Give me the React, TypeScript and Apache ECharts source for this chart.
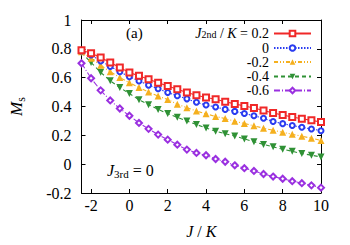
import React, { useEffect, useRef } from "react";
import * as echarts from "echarts";

const J = [-2.5, -2, -1.5, -1, -0.5, 0, 0.5, 1, 1.5, 2, 2.5, 3, 3.5, 4, 4.5, 5, 5.5, 6, 6.5, 7, 7.5, 8, 8.5, 9, 9.5, 10];
const seriesNames = ["0.2", "0", "-0.2", "-0.4", "-0.6"];
const ms02 = [0.79, 0.77, 0.74, 0.705, 0.67, 0.635, 0.613, 0.589, 0.565, 0.542, 0.519, 0.497, 0.478, 0.463, 0.45, 0.433, 0.418, 0.403, 0.389, 0.372, 0.355, 0.341, 0.327, 0.315, 0.304, 0.292];
const ms00 = [0.785, 0.758, 0.716, 0.677, 0.641, 0.607, 0.577, 0.548, 0.523, 0.497, 0.474, 0.453, 0.429, 0.41, 0.397, 0.38, 0.366, 0.351, 0.336, 0.318, 0.296, 0.281, 0.268, 0.256, 0.244, 0.232];
const msm02 = [0.78, 0.735, 0.686, 0.641, 0.601, 0.565, 0.531, 0.5, 0.472, 0.448, 0.416, 0.392, 0.368, 0.349, 0.331, 0.316, 0.298, 0.282, 0.266, 0.25, 0.235, 0.221, 0.207, 0.194, 0.18, 0.165];
const msm04 = [0.775, 0.705, 0.637, 0.578, 0.531, 0.49, 0.446, 0.413, 0.38, 0.351, 0.325, 0.3, 0.275, 0.251, 0.228, 0.211, 0.195, 0.175, 0.156, 0.137, 0.12, 0.104, 0.089, 0.074, 0.062, 0.05];
const msm06 = [0.7, 0.596, 0.512, 0.442, 0.386, 0.336, 0.286, 0.245, 0.205, 0.17, 0.135, 0.101, 0.078, 0.062, 0.036, 0.017, -0.008, -0.028, -0.047, -0.068, -0.086, -0.101, -0.118, -0.132, -0.147, -0.163];
const xTicks = [-2, 0, 2, 4, 6, 8, 10];

const SERIF = "'Liberation Serif', 'Times New Roman', serif";

export default function App() {
  const ref = useRef<HTMLDivElement>(null);
  useEffect(() => {
    if (!ref.current) return;
    const chart = echarts.init(ref.current, null, { renderer: "svg" });
    const values = [ms02, ms00, msm02, msm04, msm06];
    const styles = [
      { color: "#f02828", symbol: "emptyRect", size: 6, type: "solid" as any, rotate: 0 },
      { color: "#2a3cf0", symbol: "emptyCircle", size: 5, type: [1.5, 1.5], rotate: 0 },
      { color: "#f5b01e", symbol: "triangle", size: 7, type: [4, 2, 1, 2, 1, 2], rotate: 0 },
      { color: "#2f9135", symbol: "triangle", size: 7, type: [4, 3], rotate: 180 },
      { color: "#9a30e0", symbol: "emptyDiamond", size: 6, type: [6, 2, 1, 2], rotate: 0 },
    ];
    const series = seriesNames.map((name, i) => ({
      name,
      type: "line",
      xAxisIndex: 0,
      yAxisIndex: 0,
      data: J.map((x, k) => [x, values[i][k]]),
      symbol: styles[i].symbol,
      symbolSize: styles[i].size,
      symbolRotate: styles[i].rotate,
      showAllSymbol: true,
      lineStyle: { color: styles[i].color, width: 1.1, type: styles[i].type },
      itemStyle: { color: styles[i].color, borderWidth: 1.2 },
      z: 10 - i,
    }));
    const legendCenters = [31.5, 47, 61, 75.5, 89.5];
    const richLegend = {
      i: { fontFamily: SERIF, fontStyle: "italic", fontSize: 14, color: "#000", lineHeight: 12 },
      sub: { fontFamily: SERIF, fontSize: 10, color: "#000", verticalAlign: "bottom", lineHeight: 10, padding: [4, 0, 0, 0] },
      n: { fontFamily: SERIF, fontSize: 14, color: "#000", lineHeight: 12 },
    };
    const legends = seriesNames.map((name, i) => ({
      data: [name],
      right: 38,
      top: legendCenters[i] - 6,
      padding: 0,
      orient: "horizontal",
      align: "right",
      itemWidth: 37,
      itemHeight: 7,
      selectedMode: false,
      textStyle: { fontFamily: SERIF, fontSize: 14, color: "#000", lineHeight: 12, rich: richLegend },
      formatter: (n: string) => (i === 0 ? "{i|J}{sub|2nd}{n| / }{i|K}{n| = " + n + "}" : "{n|" + n + "}"),
    }));
    const axisLineStyle = { color: "#000", width: 1 };
    chart.setOption({
      animation: false,
      backgroundColor: "#fff",
      grid: { left: 78, right: 29, top: 20, bottom: 52 },
      legend: legends,
      xAxis: [
        {
          type: "value",
          min: -2.5,
          max: 10,
          position: "bottom",
          axisLine: { show: true, onZero: false, lineStyle: axisLineStyle },
          axisTick: { show: true, inside: true, length: 4, customValues: xTicks, lineStyle: axisLineStyle },
          axisLabel: { customValues: xTicks, fontFamily: SERIF, fontSize: 16, color: "#000", margin: 4 },
          splitLine: { show: false },
          name: "{i|J} / {i|K}",
          nameLocation: "middle",
          nameGap: 30,
          nameTextStyle: {
            fontFamily: SERIF,
            fontSize: 16,
            color: "#000",
            rich: { i: { fontFamily: SERIF, fontStyle: "italic", fontSize: 16, color: "#000" } },
          },
        },
        {
          type: "value",
          min: -2.5,
          max: 10,
          position: "top",
          axisLine: { show: true, onZero: false, lineStyle: axisLineStyle },
          axisTick: { show: true, inside: true, length: 4, customValues: xTicks, lineStyle: axisLineStyle },
          axisLabel: { show: false },
          splitLine: { show: false },
        },
      ],
      yAxis: [
        {
          type: "value",
          min: -0.2,
          max: 1,
          interval: 0.2,
          position: "left",
          axisLine: { show: true, onZero: false, lineStyle: axisLineStyle },
          axisTick: { show: true, inside: true, length: 4, lineStyle: axisLineStyle },
          axisLabel: {
            fontFamily: SERIF,
            fontSize: 16,
            color: "#000",
            margin: 10,
            formatter: (v: number) => String(Number(v.toFixed(1))),
          },
          splitLine: { show: false },
          name: "{i|M}{s|s}",
          nameLocation: "middle",
          nameRotate: 90,
          nameGap: 55,
          nameTextStyle: {
            rich: {
              i: { fontFamily: SERIF, fontStyle: "italic", fontSize: 17, color: "#000" },
              s: { fontFamily: SERIF, fontSize: 12, color: "#000", verticalAlign: "bottom", padding: [8, 0, 0, 0] },
            },
          },
        },
        {
          type: "value",
          min: -0.2,
          max: 1,
          interval: 0.2,
          position: "right",
          axisLine: { show: true, onZero: false, lineStyle: axisLineStyle },
          axisTick: { show: true, inside: true, length: 4, lineStyle: axisLineStyle },
          axisLabel: { show: false },
          splitLine: { show: false },
        },
      ],
      series,
      graphic: [
        {
          type: "text",
          left: 126,
          top: 25,
          style: { text: "(a)", font: `15px ${SERIF}`, fill: "#000" },
        },
        {
          type: "text",
          left: 107,
          top: 162,
          style: {
            text: "{i|J}{sub|3rd}{n| = 0}",
            rich: {
              i: { fontFamily: SERIF, fontStyle: "italic", fontSize: 16, fill: "#000" },
              sub: { fontFamily: SERIF, fontSize: 11, fill: "#000", verticalAlign: "bottom", padding: [8, 0, 0, 0] },
              n: { fontFamily: SERIF, fontSize: 16, fill: "#000" },
            },
          },
        },
      ],
    });
    return () => chart.dispose();
  }, []);
  return <div ref={ref} style={{ position: "fixed", left: 0, top: 0, width: 350, height: 245 }} />;
}
